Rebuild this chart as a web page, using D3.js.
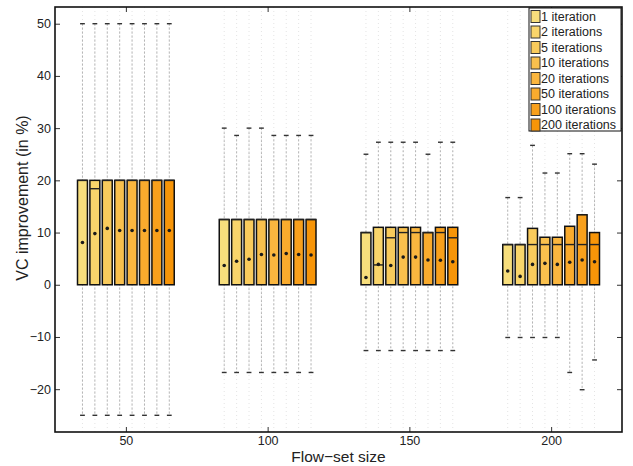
<!DOCTYPE html>
<html>
<head>
<meta charset="utf-8">
<script src="https://cdn.jsdelivr.net/npm/d3@7"></script>
<style>
  body { margin: 0; background: #fff; }
  svg { display: block; font-family: "Liberation Sans", Arial, sans-serif; }
</style>
</head>
<body>
<svg id="chart" width="633" height="466"></svg>
<script>
// flow-set sizes (groups) and iteration counts (series)
const sizes = [50, 100, 150, 200];
const iterations = ["1 iteration", "2 iterations", "5 iterations", "10 iterations",
  "20 iterations", "50 iterations", "100 iterations", "200 iterations"];
const colors = ["#F7DE7C", "#F9D56B", "#F9CB5C", "#F9C04D", "#FAB63F", "#F9AB2D", "#F8A01C", "#F79508"];
const yTicks = [-20, -10, 0, 10, 20, 30, 40, 50];

// one row per flow-set size, one value per iteration count
const lowerQ = [
  [0, 0, 0, 0, 0, 0, 0, 0],
  [0, 0, 0, 0, 0, 0, 0, 0],
  [0, 0, 0, 0, 0, 0, 0, 0],
  [0, 0, 0, 0, 0, 0, 0, 0]
];
const upperQ = [
  [20, 20, 20, 20, 20, 20, 20, 20],
  [12.5, 12.5, 12.5, 12.5, 12.5, 12.5, 12.5, 12.5],
  [10, 11, 11, 11, 11, 10, 11, 11],
  [7.7, 7.7, 10.8, 9.1, 9.1, 11.2, 13.4, 10]
];
const medians = [
  [20, 18.4, 20, 20, 20, 20, 20, 20],
  [12.5, 12.5, 12.5, 12.5, 12.5, 12.5, 12.5, 12.5],
  [10, 3.8, 9, 10, 10, 10, 10, 9],
  [7.7, 7.7, 7.7, 7.7, 7.7, 7.7, 7.7, 7.7]
];
const whiskerHi = [
  [50, 50, 50, 50, 50, 50, 50, 50],
  [30, 28.6, 30, 30, 28.6, 28.6, 28.6, 28.6],
  [25, 27.3, 27.3, 27.3, 27.3, 25, 27.3, 27.3],
  [16.7, 16.7, 26.7, 21.4, 21.4, 25.1, 25.1, 23.1]
];
const whiskerLo = [
  [-25, -25, -25, -25, -25, -25, -25, -25],
  [-16.8, -16.8, -16.8, -16.8, -16.8, -16.8, -16.8, -16.8],
  [-12.6, -12.6, -12.6, -12.6, -12.6, -12.6, -12.6, -12.6],
  [-10.1, -10.1, -10.1, -10.1, -10.1, -16.8, -20.1, -14.4]
];
const means = [
  [8.1, 9.8, 10.8, 10.4, 10.4, 10.4, 10.4, 10.4],
  [3.7, 4.5, 4.9, 5.8, 5.7, 6.0, 5.8, 5.7],
  [1.4, 3.9, 3.7, 5.3, 5.3, 4.75, 4.7, 4.4],
  [2.65, 1.6, 3.9, 4.1, 3.9, 4.3, 4.75, 4.4]
];

const svg = d3.select("#chart");
const margin = { top: 7, right: 11, bottom: 34, left: 55 };
const width = 633 - margin.left - margin.right;
const height = 466 - margin.top - margin.bottom;

const x = d3.scaleLinear().domain([25, 225]).range([0, width]);
const y = d3.scaleLinear().domain([-28.2, 53.2]).range([height, 0]);
const inner = d3.scaleBand()
  .domain(d3.range(iterations.length))
  .range([-17.5, 17.5])
  .paddingInner(0.2)
  .paddingOuter(0.1);

const chart = svg.append("g")
  .attr("transform", `translate(${margin.left},${margin.top})`);

// flatten into boxes
const boxes = [];
sizes.forEach((s, g) => {
  iterations.forEach((it, i) => {
    boxes.push({
      g, i, size: s,
      lo: lowerQ[g][i], hi: upperQ[g][i], med: medians[g][i],
      wlo: whiskerLo[g][i], whi: whiskerHi[g][i], mean: means[g][i]
    });
  });
});
const cx = d => x(d.size + inner(d.i) + inner.bandwidth() / 2);
const halfW = d => (x(inner.bandwidth()) - x(0)) / 2;

// faint full-height guide lines
chart.selectAll(".guide")
  .data(boxes)
  .enter()
  .append("line")
  .attr("class", "guide")
  .attr("x1", cx).attr("x2", cx)
  .attr("y1", 0).attr("y2", height)
  .attr("stroke", "#e4e4e4")
  .attr("stroke-dasharray", "1,3");

// whiskers
chart.selectAll(".whisker")
  .data(boxes)
  .enter()
  .append("line")
  .attr("class", "whisker")
  .attr("x1", cx).attr("x2", cx)
  .attr("y1", d => y(d.whi)).attr("y2", d => y(d.wlo))
  .attr("stroke", "#b4b4b4")
  .attr("stroke-dasharray", "2,2");

// caps
["whi", "wlo"].forEach(k => {
  chart.selectAll(".cap-" + k)
    .data(boxes)
    .enter()
    .append("line")
    .attr("x1", d => cx(d) - 2.4).attr("x2", d => cx(d) + 2.4)
    .attr("y1", d => y(d[k])).attr("y2", d => y(d[k]))
    .attr("stroke", "#333")
    .attr("stroke-width", 1.4);
});

// boxes
chart.selectAll(".box")
  .data(boxes)
  .enter()
  .append("rect")
  .attr("class", "box")
  .attr("x", d => cx(d) - halfW(d))
  .attr("width", d => 2 * halfW(d))
  .attr("y", d => y(d.hi))
  .attr("height", d => y(d.lo) - y(d.hi))
  .attr("fill", d => colors[d.i])
  .attr("stroke", "#111")
  .attr("stroke-width", 1.5);

// medians
chart.selectAll(".median")
  .data(boxes)
  .enter()
  .append("line")
  .attr("x1", d => cx(d) - halfW(d)).attr("x2", d => cx(d) + halfW(d))
  .attr("y1", d => y(d.med)).attr("y2", d => y(d.med))
  .attr("stroke", "#222")
  .attr("stroke-width", 1.4);

// means
chart.selectAll(".mean")
  .data(boxes)
  .enter()
  .append("circle")
  .attr("cx", cx)
  .attr("cy", d => y(d.mean))
  .attr("r", 1.8)
  .attr("fill", "#1a1a1a");

// axes (ticks inside)
const styleAxis = g => {
  g.select(".domain").remove();
  g.selectAll(".tick line").attr("stroke", "#333");
  g.selectAll(".tick text").attr("font-size", 12.5).attr("fill", "#222")
    .attr("font-family", "Liberation Sans, Arial, sans-serif");
};
chart.append("g")
  .attr("transform", `translate(0,${height})`)
  .call(d3.axisBottom(x).tickValues(sizes).tickSizeInner(-5).tickSizeOuter(0).tickPadding(4))
  .call(styleAxis);
chart.append("g")
  .call(d3.axisTop(x).tickValues(sizes).tickSizeInner(-5).tickSizeOuter(0).tickFormat(""))
  .call(styleAxis);
chart.append("g")
  .call(d3.axisLeft(y).tickValues(yTicks).tickSizeInner(-5).tickSizeOuter(0).tickPadding(4))
  .call(styleAxis);
chart.append("g")
  .attr("transform", `translate(${width},0)`)
  .call(d3.axisRight(y).tickValues(yTicks).tickSizeInner(-5).tickSizeOuter(0).tickFormat(""))
  .call(styleAxis);

chart.append("rect")
  .attr("width", width).attr("height", height)
  .attr("fill", "none")
  .attr("stroke", "#111")
  .attr("stroke-width", 1.6);

// axis labels
svg.append("text")
  .attr("x", margin.left + width / 2)
  .attr("y", 462)
  .attr("text-anchor", "middle")
  .attr("font-size", 15.5)
  .attr("fill", "#222")
  .text("Flow\u2212set size");

svg.append("text")
  .attr("transform", "translate(28,198) rotate(-90)")
  .attr("text-anchor", "middle")
  .attr("font-size", 16)
  .attr("fill", "#222")
  .text("VC improvement (in %)");

// legend
const legend = svg.append("g").attr("transform", "translate(529,8)");
legend.append("rect")
  .attr("width", 92).attr("height", 123)
  .attr("fill", "#fff")
  .attr("stroke", "#111")
  .attr("stroke-width", 1);
const rows = legend.selectAll(".row")
  .data(iterations)
  .enter()
  .append("g")
  .attr("transform", (d, i) => `translate(2,${8.5 + i * 15.5})`);
rows.append("rect")
  .attr("x", 0).attr("y", -6)
  .attr("width", 9).attr("height", 12)
  .attr("fill", (d, i) => colors[i])
  .attr("stroke", "#333")
  .attr("stroke-width", 1);
rows.append("text")
  .attr("x", 10).attr("y", 0)
  .attr("dy", "0.35em")
  .attr("font-size", 12.5)
  .attr("fill", "#222")
  .text(d => d);
</script>
</body>
</html>
